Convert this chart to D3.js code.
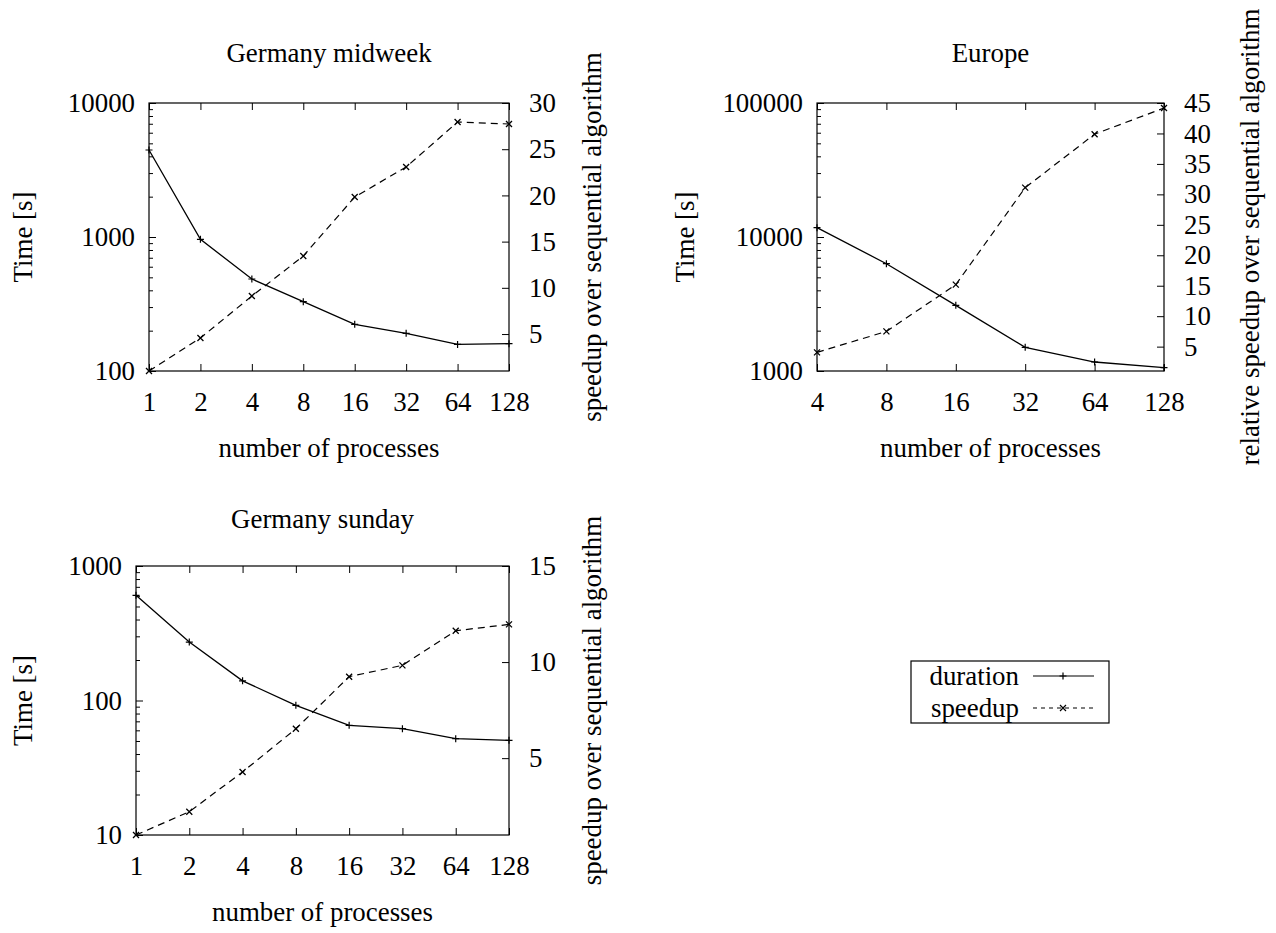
<!DOCTYPE html>
<html>
<head>
<meta charset="utf-8">
<script src="https://cdn.jsdelivr.net/npm/d3@7"></script>
<style>
  html, body { margin: 0; padding: 0; background: #fff; }
  svg { display: block; }
</style>
</head>
<body>
<svg id="chart" width="1276" height="933"></svg>
<script>
// ---------- data ----------
const procsMidweek = [1, 2, 4, 8, 16, 32, 64, 128];
const durationMidweek = [4460, 961, 486, 329, 223, 191, 158, 160];
const speedupMidweek = [1, 4.57, 9.11, 13.44, 19.83, 23.07, 27.94, 27.73];

const procsEurope = [4, 8, 16, 32, 64, 128];
const durationEurope = [11740, 6320, 3090, 1502, 1167, 1058];
const speedupEurope = [4.06, 7.5, 15.18, 31.1, 39.88, 44.18];

const procsSunday = [1, 2, 4, 8, 16, 32, 64, 128];
const durationSunday = [605, 272, 140, 92, 65.4, 61.7, 52, 50.6];
const speedupSunday = [1, 2.21, 4.28, 6.53, 9.24, 9.83, 11.63, 11.96];

const timeTicksMidweek = [100, 1000, 10000];
const timeTicksEurope = [1000, 10000, 100000];
const timeTicksSunday = [10, 100, 1000];
const speedTicksMidweek = [5, 10, 15, 20, 25, 30];
const speedTicksEurope = [5, 10, 15, 20, 25, 30, 35, 40, 45];
const speedTicksSunday = [5, 10, 15];

const titles = ["Germany midweek", "Europe", "Germany sunday"];
const xLabel = "number of processes";
const yLabel = "Time [s]";
const y2Labels = ["speedup over sequential algorithm", "relative speedup over sequential algorithm", "speedup over sequential algorithm"];
const legendLabels = ["duration", "speedup"];

// ---------- layout ----------
const FAMILY = '"Liberation Serif", "Times New Roman", Tinos, Times, "DejaVu Serif", "Noto Serif", serif';
const svg = d3.select("#chart");
svg.append("rect").attr("width", 1276).attr("height", 933).attr("fill", "#fff");

// size font so that the x label is ~221px wide, as in the reference
const probe = svg.append("text").style("font-family", FAMILY).style("font-size", "27px").text(xLabel);
const probeW = probe.node().getComputedTextLength() || 221;
probe.remove();
const FONT = Math.max(18, Math.min(30, 27 * 221 / probeW));

function txt(sel) {
  return sel.style("font-family", FAMILY).style("font-size", FONT + "px").attr("fill", "#000");
}

const panels = [
  { box: {l: 149, r: 509, t: 103, b: 371}, procs: procsMidweek, dur: durationMidweek, spd: speedupMidweek,
    yDom: [100, 10000], y2Dom: [1, 30], yTicks: timeTicksMidweek, y2Ticks: speedTicksMidweek,
    title: titles[0], y2Label: y2Labels[0], titleY: 62, yLabX: 32, y2LabX: 601, xLabY: 457 },
  { box: {l: 817, r: 1164, t: 103, b: 371}, procs: procsEurope, dur: durationEurope, spd: speedupEurope,
    yDom: [1000, 100000], y2Dom: [1, 45], yTicks: timeTicksEurope, y2Ticks: speedTicksEurope,
    title: titles[1], y2Label: y2Labels[1], titleY: 62, yLabX: 694, y2LabX: 1259, xLabY: 457 },
  { box: {l: 136, r: 509, t: 566, b: 835}, procs: procsSunday, dur: durationSunday, spd: speedupSunday,
    yDom: [10, 1000], y2Dom: [1, 15], yTicks: timeTicksSunday, y2Ticks: speedTicksSunday,
    title: titles[2], y2Label: y2Labels[2], titleY: 528, yLabX: 32, y2LabX: 601, xLabY: 921 }
];

const plusPath = "M-3.5,0H3.5M0,-3.5V3.5";
const crossPath = "M-3,-3L3,3M3,-3L-3,3";

function styleAxis(g) {
  g.select(".domain").remove();
  g.selectAll("line").attr("stroke", "#000").attr("stroke-width", 1);
  txt(g.selectAll("text"));
}

panels.forEach(p => {
  const {l, r, t, b} = p.box;
  const x = d3.scaleLog().base(2).domain([p.procs[0], p.procs[p.procs.length - 1]]).range([l, r]);
  const y = d3.scaleLog().domain(p.yDom).range([b, t]);
  const y2 = d3.scaleLinear().domain(p.y2Dom).range([b, t]);
  const g = svg.append("g");

  const minors = [];
  for (let dec = p.yDom[0]; dec < p.yDom[1]; dec *= 10)
    for (let k = 2; k <= 9; k++) minors.push(dec * k);
  g.append("g").attr("transform", `translate(${l},0)`)
    .call(d3.axisLeft(y).tickValues(minors).tickSize(-4).tickFormat(""))
    .call(styleAxis);

  g.append("g").attr("transform", `translate(${l},0)`)
    .call(d3.axisLeft(y).tickValues(p.yTicks).tickSize(-7).tickPadding(14).tickFormat(d3.format("d")))
    .call(styleAxis);

  g.append("g").attr("transform", `translate(${r},0)`)
    .call(d3.axisRight(y2).tickValues(p.y2Ticks).tickSize(-7).tickPadding(20).tickFormat(d3.format("d")))
    .call(styleAxis);

  g.append("g").attr("transform", `translate(0,${b})`)
    .call(d3.axisBottom(x).tickValues(p.procs).tickSize(-7).tickPadding(21).tickFormat(d3.format("d")))
    .call(styleAxis);

  g.append("g").attr("transform", `translate(0,${t})`)
    .call(d3.axisTop(x).tickValues(p.procs).tickSize(-7).tickFormat(""))
    .call(styleAxis);

  g.append("rect").attr("x", l).attr("y", t).attr("width", r - l).attr("height", b - t)
    .attr("fill", "none").attr("stroke", "#000").attr("stroke-width", 1.2);

  const durData = p.procs.map((v, i) => [v, p.dur[i]]);
  const spdData = p.procs.map((v, i) => [v, p.spd[i]]);
  g.append("path").datum(durData)
    .attr("d", d3.line().x(d => x(d[0])).y(d => y(d[1])))
    .attr("fill", "none").attr("stroke", "#000").attr("stroke-width", 1.3);
  g.selectAll(".dpt").data(durData).enter().append("path")
    .attr("transform", d => `translate(${x(d[0])},${y(d[1])})`)
    .attr("d", plusPath).attr("stroke", "#000").attr("stroke-width", 1.2);

  g.append("path").datum(spdData)
    .attr("d", d3.line().x(d => x(d[0])).y(d => y2(d[1])))
    .attr("fill", "none").attr("stroke", "#000").attr("stroke-width", 1.2)
    .attr("stroke-dasharray", "7,5");
  g.selectAll(".spt").data(spdData).enter().append("path")
    .attr("transform", d => `translate(${x(d[0])},${y2(d[1])})`)
    .attr("d", crossPath).attr("stroke", "#000").attr("stroke-width", 1.3);

  const cx = (l + r) / 2, cy = (t + b) / 2;
  txt(g.append("text").attr("x", cx).attr("y", p.titleY).attr("text-anchor", "middle")).text(p.title);
  txt(g.append("text").attr("x", cx).attr("y", p.xLabY).attr("text-anchor", "middle")).text(xLabel);
  txt(g.append("text").attr("transform", `translate(${p.yLabX},${cy}) rotate(-90)`)
    .attr("text-anchor", "middle")).text(yLabel);
  txt(g.append("text").attr("transform", `translate(${p.y2LabX},${cy}) rotate(-90)`)
    .attr("text-anchor", "middle")).text(p.y2Label);
});

// ---------- legend ----------
const lg = svg.append("g");
lg.append("rect").attr("x", 911).attr("y", 661).attr("width", 198).attr("height", 62)
  .attr("fill", "#fff").attr("stroke", "#000").attr("stroke-width", 1.2);
const rows = [
  { label: legendLabels[0], y: 676, dash: null, mark: plusPath },
  { label: legendLabels[1], y: 708, dash: "4,4", mark: crossPath }
];
rows.forEach(rw => {
  txt(lg.append("text").attr("x", 1019).attr("y", rw.y).attr("dy", "0.32em")
    .attr("text-anchor", "end")).text(rw.label);
  lg.append("line").attr("x1", 1033).attr("x2", 1094).attr("y1", rw.y).attr("y2", rw.y)
    .attr("stroke", "#000").attr("stroke-width", 1.2)
    .attr("stroke-dasharray", rw.dash);
  lg.append("path").attr("transform", `translate(1063,${rw.y})`).attr("d", rw.mark)
    .attr("stroke", "#000").attr("stroke-width", 1.2);
});
</script>
</body>
</html>
